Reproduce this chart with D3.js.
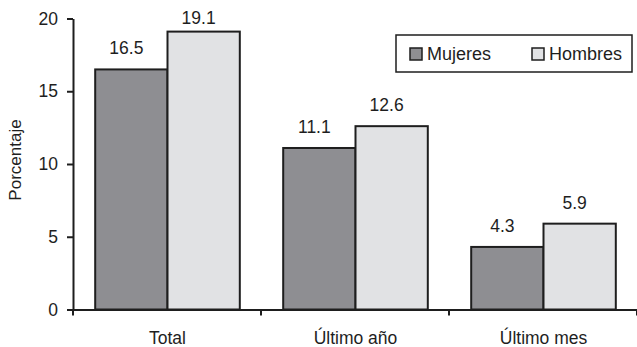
<!DOCTYPE html>
<html>
<head>
<meta charset="utf-8">
<script src="https://cdn.jsdelivr.net/npm/d3@7"></script>
<style>
  html, body { margin: 0; padding: 0; background: #fff; }
  svg { display: block; font-family: "Liberation Sans", Arial, sans-serif; }
</style>
</head>
<body>
<svg id="chart" width="637" height="347"></svg>
<script>
// Prevalence by sex and period (%)
const categories = ["Total", "Último año", "Último mes"];
const series = ["Mujeres", "Hombres"];
const mujeres = [16.5, 11.1, 4.3];
const hombres = [19.1, 12.6, 5.9];
const yTicks = [0, 5, 10, 15, 20];
const seriesColors = ["#8e8e92", "#e1e2e4"];

const values = [mujeres, hombres];
const rows = categories.map((c, i) => ({
  category: c,
  bars: series.map((s, j) => ({ series: s, value: values[j][i], color: seriesColors[j] }))
}));

const svg = d3.select("#chart");
const ink = "#1e1e1e";

const x0 = d3.scaleBand().domain(categories).range([73.5, 637.5]).paddingInner(0).paddingOuter(0);
const x1 = d3.scaleBand().domain(series).range([0, x0.bandwidth()]).paddingInner(0).paddingOuter(0.3);
const y = d3.scaleLinear().domain([0, 20]).range([309.5, 18.5]);

// Bars
const groups = svg.append("g").selectAll("g").data(rows).join("g")
  .attr("transform", d => `translate(${x0(d.category)},0)`);

groups.selectAll("rect").data(d => d.bars).join("rect")
  .attr("x", d => x1(d.series))
  .attr("y", d => y(d.value))
  .attr("width", x1.bandwidth())
  .attr("height", d => y(0) - y(d.value))
  .attr("fill", d => d.color)
  .attr("stroke", ink)
  .attr("stroke-width", 2);

// Value labels
groups.selectAll("text.val").data(d => d.bars).join("text")
  .attr("class", "val")
  .attr("x", d => x1(d.series) + x1.bandwidth() / 2 - 5)
  .attr("y", d => Math.max(y(d.value) - 15, 24))
  .attr("text-anchor", "middle")
  .attr("font-size", 17.5)
  .attr("fill", ink)
  .text(d => d.value.toFixed(1));

// Y axis
const yAxis = svg.append("g")
  .attr("transform", `translate(${x0.range()[0] - 0.5},0)`)
  .call(d3.axisLeft(y).tickValues(yTicks).tickSize(6).tickPadding(9).tickSizeOuter(0));
yAxis.select(".domain").attr("stroke", ink).attr("stroke-width", 2);
yAxis.selectAll(".tick line").attr("stroke", ink).attr("stroke-width", 2);
yAxis.selectAll(".tick text").attr("font-size", 17.5).attr("fill", ink)
  .attr("font-family", "Liberation Sans, Arial, sans-serif");

// X axis with category labels
const xAxis = svg.append("g")
  .attr("transform", `translate(0,${y(0)})`)
  .call(d3.axisBottom(x0).tickSize(0).tickPadding(22).tickSizeOuter(0));
xAxis.select(".domain").attr("stroke", ink).attr("stroke-width", 2);
xAxis.selectAll(".tick text").attr("font-size", 17.5).attr("fill", ink)
  .attr("font-family", "Liberation Sans, Arial, sans-serif");

// Boundary ticks between categories
const bounds = categories.map(c => x0(c)).concat([x0(categories[categories.length - 1]) + x0.bandwidth()]);
svg.append("g").selectAll("line").data(bounds).join("line")
  .attr("x1", d => d - 0.5).attr("x2", d => d - 0.5)
  .attr("y1", y(0)).attr("y2", y(0) + 6)
  .attr("stroke", ink).attr("stroke-width", 2);

// Y axis title
svg.append("text")
  .attr("transform", "translate(21,160) rotate(-90)")
  .attr("text-anchor", "middle")
  .attr("font-size", 17)
  .attr("fill", ink)
  .text("Porcentaje");

// Legend
const legend = svg.append("g");
legend.append("rect")
  .attr("x", 396).attr("y", 35).attr("width", 236).attr("height", 37)
  .attr("fill", "#fff").attr("stroke", ink).attr("stroke-width", 1.5);
const legendX = [410, 532];
const items = legend.selectAll("g").data(series).join("g")
  .attr("transform", (d, i) => `translate(${legendX[i]},48)`);
items.append("rect")
  .attr("width", 12).attr("height", 12)
  .attr("fill", (d, i) => seriesColors[i])
  .attr("stroke", ink).attr("stroke-width", 1.5);
items.append("text")
  .attr("x", 17).attr("y", 11.5)
  .attr("font-size", 18)
  .attr("fill", ink)
  .text(d => d);
</script>
</body>
</html>
